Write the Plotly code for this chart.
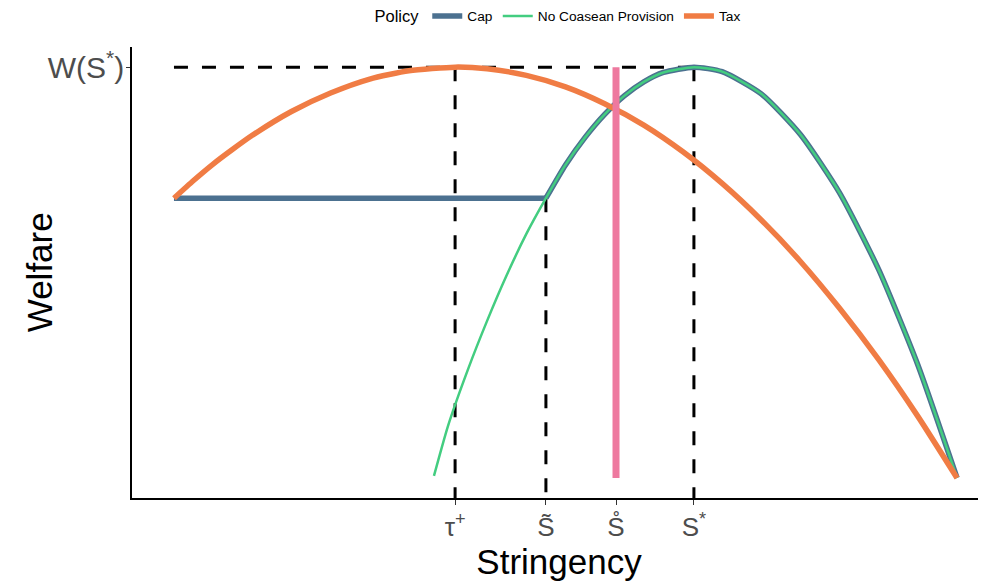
import plotly.graph_objects as go

# ---- data (arbitrary units) ----
tax_x = [0, 0.25, 0.5, 0.75, 1, 1.5, 2, 2.5, 3, 3.59, 4, 4.5, 5, 5.5, 6, 6.5, 7, 7.5, 8, 8.5, 9, 9.5, 10]
tax_w = [6.81, 7.24, 7.64, 8.00, 8.34, 8.92, 9.37, 9.71, 9.91, 10.0, 9.96, 9.80, 9.52, 9.11, 8.59, 7.94,
         7.17, 6.28, 5.27, 4.13, 2.88, 1.50, 0.0]

nc_x = [3.32, 3.5, 3.75, 4, 4.25, 4.5, 4.75, 5, 5.25, 5.5, 5.75, 6, 6.25, 6.64, 7, 7.5, 8, 8.5, 9, 9.5, 10]
nc_w = [0.05, 1.27, 2.62, 3.83, 4.94, 5.94, 6.81, 7.62, 8.29, 8.85, 9.30, 9.64, 9.87, 10.0, 9.89, 9.35, 8.36, 6.94, 5.07, 2.75, 0.0]

cap_flat_x = [0, 4.75]
cap_flat_w = [6.81, 6.81]
cap_curve_x = [4.75, 5, 5.25, 5.5, 5.75, 6, 6.25, 6.64, 7, 7.5, 8, 8.5, 9, 9.5, 10]
cap_curve_w = [6.81, 7.62, 8.29, 8.85, 9.30, 9.64, 9.87, 10.0, 9.89, 9.35, 8.36, 6.94, 5.07, 2.75, 0.0]

s_tau = 3.59      # tau+
s_tilde = 4.75    # S tilde
s_ring = 5.645    # S ring
s_star = 6.64     # S*
w_star = 10.0
w_cap = 6.81

x_ticks = [s_tau, s_tilde, s_ring, s_star]
x_tick_labels = ["τ<sup>+</sup>", "S\u0303", "S\u030A", "S<sup>*</sup>"]
y_ticks = [w_star]
y_tick_labels = ["W(S<sup>*</sup>)"]

x_range = [-0.536, 10.37]
y_range = [-0.487, 10.49]

CAP_C = "#4C7190"
NC_C = "#43CD80"
TAX_C = "#F07C44"
PINK_C = "#EE799F"

fig = go.Figure()

dash_style = dict(color="black", width=3, dash="14px,14px")
# dashed guides
fig.add_trace(go.Scatter(x=[0, s_star], y=[w_star, w_star], mode="lines", line=dash_style,
                         showlegend=False, hoverinfo="skip"))
fig.add_trace(go.Scatter(x=[s_tau, s_tau], y=[w_star, y_range[0]], mode="lines", line=dash_style,
                         showlegend=False, hoverinfo="skip"))
fig.add_trace(go.Scatter(x=[s_tilde, s_tilde], y=[w_cap, y_range[0]], mode="lines", line=dash_style,
                         showlegend=False, hoverinfo="skip"))
fig.add_trace(go.Scatter(x=[s_star, s_star], y=[w_star, y_range[0]], mode="lines", line=dash_style,
                         showlegend=False, hoverinfo="skip"))

fig.add_trace(go.Scatter(x=cap_flat_x, y=cap_flat_w, mode="lines", name="Cap", legendgroup="cap",
                         line=dict(color=CAP_C, width=5.5)))
fig.add_trace(go.Scatter(x=cap_curve_x, y=cap_curve_w, mode="lines", name="Cap", legendgroup="cap",
                         showlegend=False,
                         line=dict(color=CAP_C, width=5.5, shape="spline", smoothing=0.6)))
fig.add_trace(go.Scatter(x=nc_x, y=nc_w, mode="lines", name="No Coasean Provision",
                         line=dict(color=NC_C, width=2.5, shape="spline", smoothing=0.6)))
fig.add_trace(go.Scatter(x=tax_x, y=tax_w, mode="lines", name="Tax",
                         line=dict(color=TAX_C, width=5.5, shape="spline", smoothing=0.6)))
fig.add_trace(go.Scatter(x=[s_ring, s_ring], y=[0, w_star], mode="lines",
                         line=dict(color=PINK_C, width=7), showlegend=False, hoverinfo="skip"))

fig.add_annotation(text="Welfare", textangle=-90, xref="paper", yref="paper",
                   x=-0.108, y=0.5, xanchor="center", yanchor="middle", showarrow=False,
                   font=dict(size=35, color="black"))

fig.update_layout(
    width=978, height=577,
    margin=dict(l=124, r=0, t=39, b=87, autoexpand=False),
    plot_bgcolor="white", paper_bgcolor="white",
    font=dict(family="Liberation Sans, Arial, sans-serif", color="black"),
    legend=dict(orientation="h", x=0.5, xanchor="center", y=0.985, yref="container", yanchor="middle",
                title=dict(text="Policy", font=dict(size=16.5)), font=dict(size=13.7),
                itemwidth=30, bgcolor="rgba(0,0,0,0)"),
    xaxis=dict(range=x_range, showgrid=False, zeroline=False, showline=True, automargin=False,
               linecolor="black", linewidth=1.5, ticks="outside", ticklen=5,
               tickcolor="#333333", tickwidth=1.2,
               tickmode="array", tickvals=x_ticks, ticktext=x_tick_labels,
               tickfont=dict(size=26, color="#4D4D4D"),
               title=dict(text="Stringency", font=dict(size=35, color="black"), standoff=7)),
    yaxis=dict(range=y_range, showgrid=False, zeroline=False, showline=True, automargin=False,
               linecolor="black", linewidth=1.5, ticks="outside", ticklen=4,
               tickcolor="#333333", tickwidth=1.2, ticklabelstandoff=-4,
               tickmode="array", tickvals=y_ticks, ticktext=y_tick_labels,
               tickfont=dict(size=30, color="#4D4D4D")),
)

fig.write_html("out.html")
